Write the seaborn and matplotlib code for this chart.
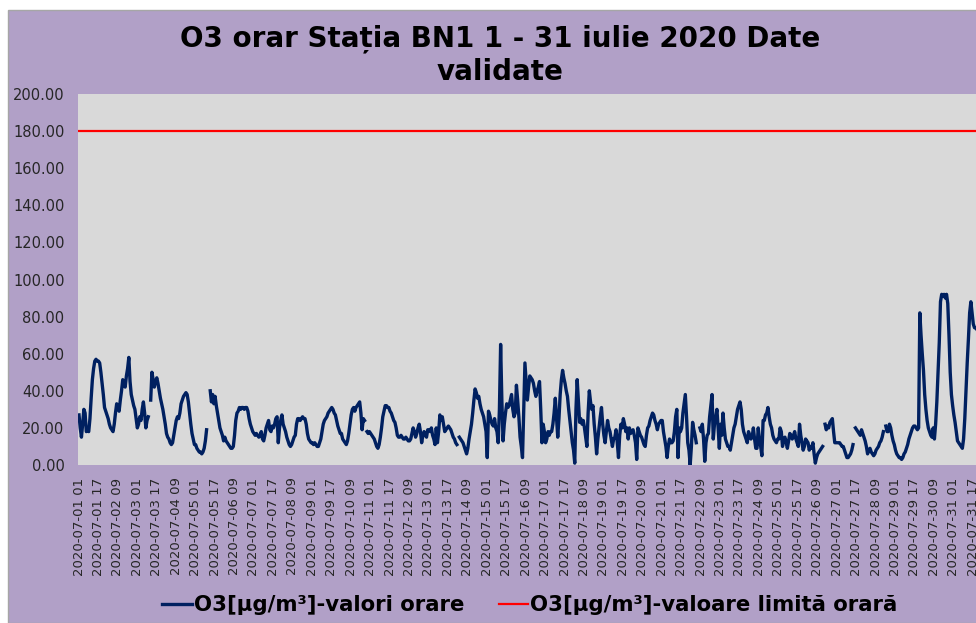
import numpy as np
import pandas as pd
import seaborn as sns
import matplotlib.pyplot as plt
from matplotlib.lines import Line2D
from matplotlib.patches import Rectangle

nan = np.nan

# O3 orar [µg/m³], cate 24 valori pe zi (ora 01 ... ora 24)
d01 = [27, 20, 15, 22, 30, 28, 18, 19, 18, 25, 36, 46, 52, 56, 57, 56, 56, 55, 50, 44, 38, 31, 29, 27]
d02 = [25, 22, 20, 19, 18, 22, 28, 33, 31, 29, 35, 40, 46, 44, 42, 48, 52, 58, 45, 38, 35, 32, 30, 25]
d03 = [20, 22, 26, 24, 30, 34, 28, 20, 24, 26, nan, 35, 50, 46, 42, 45, 47, 44, 40, 36, 33, 30, 26, 22]
d04 = [17, 15, 14, 12, 11, 12, 16, 20, 24, 26, 25, 28, 33, 35, 37, 38, 39, 38, 34, 28, 22, 17, 14, 11]
d05 = [11, 9, 8, 7, 7, 6, 7, 9, 13, 19, nan, nan, 40, 34, 38, 33, 37, 32, 28, 24, 20, 18, 16, 13]
d06 = [15, 13, 12, 11, 10, 9, 9, 10, 16, 24, 28, 29, 31, 30, 31, 31, 30, 31, 31, 29, 25, 22, 20, 18]
d07 = [17, 16, 17, 16, 15, 16, 18, 14, 13, 16, 20, 22, 24, 19, 18, 21, 20, 22, 25, 26, 12, 20, 24, 27]
d08 = [22, 20, 18, 15, 13, 11, 10, 11, 13, 15, 16, 22, 25, 25, 24, 25, 26, 25, 25, 22, 17, 14, 13, 12]
d09 = [12, 11, 12, 11, 10, 10, 12, 14, 18, 22, 24, 25, 26, 28, 29, 30, 31, 30, 28, 27, 24, 21, 19, 17]
d10 = [17, 14, 13, 12, 11, 13, 17, 22, 27, 30, 31, 29, 31, 32, 33, 34, 28, 19, 25, 24, nan, 18, 17, 18]
d11 = [17, 16, 15, 14, 12, 10, 9, 11, 15, 20, 26, 29, 32, 32, 31, 31, 29, 28, 26, 24, 23, 20, 16, 15]
d12 = [15, 16, 15, 14, 14, 15, 14, 13, 13, 14, 17, 20, 18, 15, 17, 20, 22, 18, 12, 16, 18, 16, 15, 19]
d13 = [19, 18, 20, 16, 14, 11, 20, 12, 18, 27, 24, 26, 22, 18, 19, 20, 21, 20, 19, 17, 15, 14, 12, 11]
d14 = [nan, 15, 14, 13, 12, 10, 8, 6, 9, 14, 18, 22, 28, 35, 41, 39, 36, 37, 33, 30, 28, 26, 22, 18]
d15 = [4, 29, 27, 24, 22, 21, 25, 20, 18, 12, 30, 65, 35, 13, 22, 28, 33, 31, 32, 35, 38, 30, 26, 28]
d16 = [43, 35, 26, 15, 10, 4, 30, 55, 45, 35, 42, 48, 47, 46, 44, 40, 37, 40, 42, 45, 30, 12, 22, 18]
d17 = [12, 14, 18, 16, 18, 18, 22, 28, 36, 25, 15, 25, 38, 46, 51, 47, 44, 40, 37, 30, 24, 18, 12, 8]
d18 = [1, 30, 46, 35, 23, 25, 22, 24, 20, 15, 10, 28, 40, 34, 30, 32, 22, 15, 6, 14, 20, 26, 31, 22]
d19 = [16, 12, 18, 24, 20, 18, 14, 10, 14, 15, 19, 12, 4, 16, 22, 20, 25, 22, 18, 20, 14, 20, 17, 18]
d20 = [19, 16, 12, 3, 20, 18, 16, 15, 13, 11, 10, 16, 20, 21, 24, 26, 28, 27, 24, 22, 19, 22, 23, 24]
d21 = [24, 18, 14, 10, 4, 10, 14, 12, 12, 13, 18, 26, 30, 4, 20, 18, 20, 28, 33, 38, 26, 12, 8, 0]
d22 = [10, 23, 19, 16, 12, nan, nan, 20, 18, 22, 14, 2, 12, 16, 17, 26, 32, 38, 14, 22, 26, 30, 20, 9]
d23 = [22, 16, 28, 20, 14, 12, 10, 10, 8, 12, 16, 20, 22, 26, 30, 32, 34, 30, 22, 18, 16, 14, 12, 18]
d24 = [16, 14, 15, 20, 14, 9, 9, 20, 14, 10, 5, 24, 24, 27, 28, 31, 26, 22, 20, 16, 14, 13, 12, 14]
d25 = [14, 20, 18, 10, 14, 15, 12, 9, 13, 17, 16, 14, 16, 18, 14, 12, 10, 22, 16, 12, 8, 10, 14, 13]
d26 = [12, 8, 10, 9, 12, 6, 1, 4, 6, 7, 8, 9, 10, nan, 22, 19, 21, 20, 23, 24, 25, 18, 12, 12]
d27 = [12, 12, 12, 11, 10, 10, 8, 6, 4, 4, 5, 6, 8, 11, nan, 20, 19, 18, 17, 16, 19, 17, 15, 13]
d28 = [10, 6, 8, 9, 7, 6, 5, 6, 8, 9, 10, 12, 13, 15, 18, nan, 21, 18, 18, 22, 20, 16, 13, 11]
d29 = [8, 6, 5, 4, 4, 3, 4, 6, 7, 9, 11, 14, 16, 18, 20, 21, 21, 20, 19, 20, 82, 70, 60, 51]
d30 = [38, 30, 24, 20, 18, 16, 15, 20, 14, 22, 34, 50, 66, 88, 92, 91, 92, 90, 92, 87, 70, 50, 38, 32]
d31 = [27, 23, 18, 13, 12, 11, 10, 9, 14, 25, 40, 55, 68, 82, 88, 82, 76, 74, 74, 73, 72, 70, 66, 62]

zile = [d01, d02, d03, d04, d05, d06, d07, d08, d09, d10, d11, d12, d13, d14, d15, d16,
        d17, d18, d19, d20, d21, d22, d23, d24, d25, d26, d27, d28, d29, d30, d31]
o3 = np.array(sum(zile, []), dtype=float)
limita = [180.0] * len(o3)  # valoare limita orara

ore = pd.date_range("2020-07-01 01:00", periods=len(o3), freq="h")
pas_etichete = 16
etichete_x = [t.strftime("%Y-%m-%d %H") for t in ore[::pas_etichete]]
etichete_y = [f"{v:.2f}" for v in range(0, 201, 20)]

df = pd.DataFrame({"ora": np.arange(len(o3)), "o3": o3, "limita": limita})
df["seg"] = df["o3"].isna().cumsum()  # rupe linia unde lipsesc date
df_o3 = df.dropna(subset=["o3"])

mov = "#B1A0C7"
bleumarin = "#002060"

fig = plt.figure(figsize=(9.76, 6.23), dpi=100, facecolor="white")
fig.patches.append(Rectangle((8 / 976, 0), 1, 1 - 10 / 623, transform=fig.transFigure,
                             facecolor=mov, edgecolor="#A6A6A6", lw=1, zorder=-10))

ax = fig.add_axes([78.4 / 976, 158 / 623, 904 / 976, 371 / 623])
ax.set_facecolor("#D9D9D9")

sns.lineplot(data=df, x="ora", y="limita", color="#FF0000", lw=1.6, ax=ax)
sns.lineplot(data=df_o3, x="ora", y="o3", units="seg", estimator=None,
             color=bleumarin, lw=2.4, ax=ax)

ax.set_xlim(-0.5, len(o3) - 0.5)
ax.set_ylim(0, 200)
ax.set_yticks(range(0, 201, 20))
ax.set_yticklabels(etichete_y, fontsize=10.5, color="#262626")
ax.set_xticks(df["ora"][::pas_etichete])
ax.set_xticklabels(etichete_x, rotation=90, fontsize=9.5, color="#262626")
ax.tick_params(length=0)
ax.tick_params(axis="y", pad=10)
ax.tick_params(axis="x", pad=9)
ax.set_xlabel("")
ax.set_ylabel("")
for s in ax.spines.values():
    s.set_visible(False)

fig.text(500 / 976, 1 - 24 / 623, "O3 orar Stația BN1 1 - 31 iulie 2020 Date\nvalidate",
         ha="center", va="top", fontsize=20, fontweight="bold", linespacing=1.25)

handles = [Line2D([], [], color=bleumarin, lw=2.4),
           Line2D([], [], color="#FF0000", lw=1.6)]
fig.legend(handles, ["O3[µg/m³]-valori orare", "O3[µg/m³]-valoare limită orară"],
           loc="center", bbox_to_anchor=(530 / 976, 1 - 605 / 623), ncol=2, frameon=False,
           prop={"size": 15.3, "weight": "bold"}, handlelength=1.4, handletextpad=0.1,
           columnspacing=1.6)

fig.savefig("out.png", dpi=100)
